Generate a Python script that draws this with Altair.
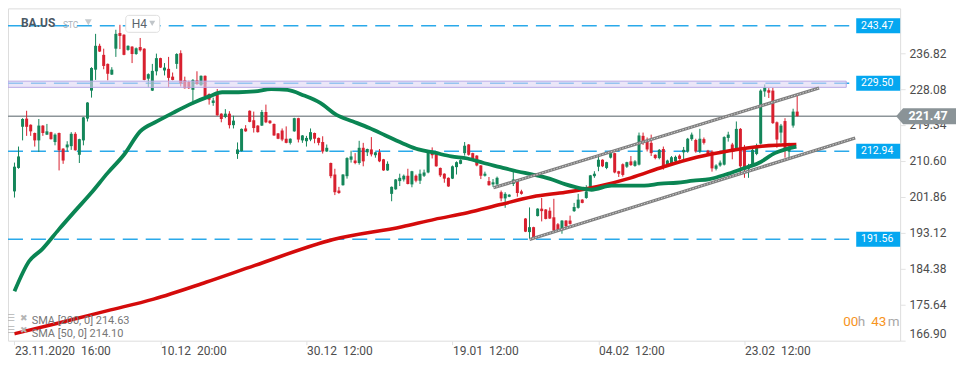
import altair as alt
import pandas as pd

# ---------------- data (BA.US, H4) ----------------
opens = [
    203.2, 208.9, 218.9, 220.9, 219.4, 217.4, 215.6, 219.2, 217.0, 217.6,
    215.2, 217.4, 213.6, 213.9, 214.2, 217.2, 212.1, 215.6, 220.9, 227.7,
    232.8, 238.6, 236.4, 234.2, 231.6, 237.9, 241.7, 241.3, 237.6, 238.4,
    236.6, 238.3, 237.9, 230.6, 227.7, 232.4, 235.6, 232.6, 233.0, 231.1,
    234.2, 236.8, 230.2, 229.8, 227.9, 230.2, 229.0, 231.3, 226.9, 224.7,
    227.1, 222.1, 221.3, 222.1, 219.3, 212.3, 213.0, 218.5, 222.8, 220.5,
    219.2, 219.2, 222.5, 220.4, 219.6, 217.3, 218.0, 216.0, 215.0, 217.8,
    221.0, 215.6, 215.4, 215.8, 217.4, 216.2, 215.2, 212.9, 210.1, 207.3,
    203.4, 204.7, 206.9, 210.9, 210.7, 210.1, 213.8, 212.7, 213.4, 212.0,
    212.7, 211.0, 208.3, 202.6, 203.7, 205.7, 206.1, 207.0, 204.9, 207.0,
    205.8, 207.0, 207.8, 212.9, 212.4, 208.9, 207.5, 206.5, 206.3, 209.1,
    209.9, 212.5, 214.6, 212.5, 211.9, 209.5, 207.0, 205.7, 204.9, 204.9,
    203.0, 201.5, 201.9, 205.0, 206.1, 203.2, 196.6, 193.3, 194.5, 197.2,
    199.0, 198.8, 198.5, 196.9, 195.2, 194.1, 196.1, 196.1, 198.4, 199.2,
    201.2, 201.6, 203.6, 206.9, 209.2, 210.9, 208.9, 211.4, 212.5, 208.1,
    209.8, 209.2, 210.5, 209.4, 209.7, 216.7, 215.4, 215.0, 212.1, 211.3,
    213.5, 209.7, 210.1, 210.5, 211.9, 212.7, 212.9, 215.9, 215.7, 212.9,
    215.9, 213.1, 212.9, 208.7, 209.5, 209.7, 216.2, 214.6, 213.5, 218.4,
    214.0, 208.7, 209.3, 212.3, 214.8, 227.5, 227.8, 227.7, 220.0, 217.5,
    220.3, 212.9, 219.2, 222.6,
]
highs = [
    210.2, 214.1, 221.0, 222.8, 219.5, 217.5, 220.8, 219.3, 219.6, 217.7,
    217.3, 217.5, 213.7, 215.4, 217.6, 217.6, 216.0, 221.3, 224.9, 233.4,
    241.5, 239.1, 237.9, 234.3, 233.4, 242.5, 243.7, 241.4, 238.7, 238.5,
    238.2, 240.5, 238.0, 231.9, 234.2, 236.7, 235.7, 234.4, 235.9, 232.1,
    236.8, 237.5, 231.1, 230.1, 230.5, 232.4, 231.4, 231.4, 227.0, 226.0,
    228.1, 222.2, 223.2, 222.7, 221.6, 215.1, 218.5, 219.3, 222.9, 222.6,
    219.3, 223.0, 224.3, 220.5, 219.7, 217.4, 218.5, 219.0, 216.1, 221.1,
    221.1, 216.9, 216.7, 218.5, 217.5, 216.3, 216.6, 214.6, 210.2, 208.7,
    204.3, 207.4, 211.5, 213.1, 212.5, 215.5, 215.0, 213.6, 216.4, 212.8,
    213.5, 211.1, 210.5, 204.4, 206.2, 207.5, 207.3, 208.7, 208.2, 207.3,
    208.5, 208.5, 212.8, 213.9, 212.5, 209.0, 207.6, 206.6, 209.5, 210.5,
    211.0, 215.2, 214.7, 212.6, 212.0, 209.6, 208.0, 206.7, 206.2, 206.8,
    203.4, 203.0, 202.5, 208.1, 206.2, 203.6, 196.7, 199.3, 194.6, 199.1,
    201.6, 198.9, 199.3, 201.4, 195.5, 196.2, 196.2, 197.3, 200.4, 202.6,
    201.3, 204.7, 207.2, 208.1, 211.7, 211.0, 210.4, 213.0, 212.6, 208.2,
    210.0, 210.4, 211.8, 210.8, 217.5, 217.5, 216.3, 217.0, 212.2, 213.5,
    214.1, 210.9, 211.8, 211.9, 212.2, 214.0, 216.2, 217.5, 216.0, 218.4,
    216.3, 213.3, 213.2, 209.8, 210.7, 216.6, 217.7, 215.0, 220.2, 218.6,
    214.5, 209.9, 213.6, 214.8, 228.0, 229.2, 228.3, 228.4, 220.2, 219.6,
    221.0, 215.0, 223.3, 226.7,
]
lows = [
    201.7, 208.7, 215.6, 216.7, 216.7, 214.1, 212.8, 216.7, 216.9, 215.8,
    214.4, 208.3, 209.9, 212.9, 213.3, 213.1, 210.1, 214.4, 220.2, 226.0,
    230.3, 237.1, 232.9, 230.2, 231.5, 235.9, 237.8, 236.3, 237.4, 234.4,
    236.4, 237.2, 230.2, 228.5, 227.6, 231.4, 233.2, 231.4, 228.5, 230.2,
    233.0, 228.7, 228.2, 228.1, 224.4, 229.1, 228.9, 225.6, 224.3, 224.0,
    221.6, 220.0, 221.0, 218.5, 218.5, 211.1, 212.9, 217.7, 220.0, 217.5,
    217.5, 219.1, 219.8, 219.6, 216.7, 215.9, 215.4, 214.9, 214.6, 217.7,
    215.1, 215.0, 214.1, 215.4, 214.9, 214.4, 212.4, 212.8, 206.4, 202.3,
    202.6, 204.6, 206.3, 210.2, 209.8, 209.7, 209.3, 211.8, 211.7, 211.4,
    210.3, 208.2, 208.2, 200.8, 203.6, 204.5, 205.6, 204.9, 204.2, 205.4,
    205.0, 206.7, 207.6, 211.2, 209.2, 206.7, 205.3, 204.3, 206.2, 207.3,
    209.8, 211.9, 211.9, 210.6, 209.3, 206.2, 206.8, 204.6, 204.3, 204.8,
    200.8, 199.2, 201.8, 204.5, 201.9, 202.4, 193.3, 191.7, 191.8, 197.1,
    195.9, 196.4, 196.5, 193.3, 193.6, 192.9, 194.1, 195.1, 198.2, 199.0,
    200.3, 201.4, 203.5, 206.5, 208.1, 209.1, 208.6, 211.2, 207.6, 206.7,
    206.8, 208.9, 209.4, 209.2, 209.5, 214.5, 212.9, 211.8, 211.0, 211.0,
    208.5, 209.4, 209.8, 210.2, 210.9, 211.0, 212.6, 215.5, 212.6, 212.5,
    214.6, 212.0, 208.0, 208.3, 209.2, 209.5, 215.3, 211.0, 213.4, 207.5,
    206.5, 206.5, 209.1, 212.0, 214.6, 226.2, 225.9, 219.6, 213.8, 215.0,
    211.4, 211.4, 218.7, 221.4,
]
closes = [
    209.2, 211.7, 220.8, 218.9, 217.8, 215.6, 219.2, 217.4, 217.8, 215.9,
    217.0, 213.2, 210.7, 214.6, 217.2, 213.2, 215.9, 221.2, 224.8, 233.2,
    238.6, 237.2, 233.7, 231.8, 232.8, 241.5, 241.0, 236.4, 238.6, 236.6,
    238.0, 237.5, 230.3, 231.7, 232.5, 235.6, 233.3, 233.3, 230.8, 230.3,
    236.6, 229.5, 228.3, 228.3, 230.3, 229.3, 231.3, 226.3, 225.5, 225.3,
    221.7, 220.8, 222.1, 219.3, 220.4, 213.4, 218.4, 217.8, 220.1, 218.6,
    217.6, 222.5, 220.0, 219.8, 216.8, 216.0, 215.8, 215.0, 216.0, 221.0,
    215.8, 216.8, 216.2, 217.6, 216.0, 215.0, 212.9, 213.8, 206.9, 203.0,
    202.8, 207.3, 211.3, 211.7, 210.1, 213.8, 210.5, 213.5, 212.2, 212.7,
    210.5, 208.3, 209.9, 204.3, 206.1, 206.5, 207.0, 205.0, 208.1, 205.8,
    207.5, 207.8, 212.7, 212.0, 209.3, 207.1, 206.3, 204.4, 209.3, 210.3,
    210.8, 214.3, 212.1, 210.9, 209.5, 207.0, 207.5, 204.7, 205.4, 206.5,
    201.5, 202.6, 202.4, 206.1, 202.8, 202.6, 193.4, 194.5, 191.9, 199.0,
    198.4, 196.5, 196.6, 193.7, 193.8, 196.1, 194.7, 195.3, 199.4, 201.2,
    200.4, 203.2, 207.1, 207.5, 210.9, 209.3, 210.3, 212.5, 207.8, 207.5,
    207.2, 210.3, 209.6, 210.5, 216.8, 215.0, 213.4, 212.5, 211.3, 213.3,
    208.9, 210.7, 211.5, 211.6, 211.1, 213.3, 216.0, 217.0, 212.9, 216.0,
    215.0, 212.3, 208.8, 209.5, 210.2, 216.4, 217.0, 213.2, 218.4, 209.3,
    208.9, 209.5, 213.3, 214.3, 227.7, 228.5, 227.2, 219.8, 215.8, 219.2,
    213.4, 214.0, 222.6, 221.5,
]

# moving averages, read at points along the curves (candle index, price)
sma50_idx = [0, 3.6, 6.8, 10.9, 14.9, 18.9, 23.0, 27.0, 31.0, 35.1,
             39.1, 43.1, 48.0, 51.2, 55.2, 59.3, 63.3, 67.3, 71.4, 75.4,
             79.4, 83.5, 87.5, 91.5, 96.4, 99.6, 103.6, 107.7, 111.7, 115.7,
             119.8, 123.8, 127.8, 131.9, 135.9, 139.9, 142.3, 147.2, 155.3, 159.3,
             163.3, 167.4, 171.4, 175.4, 179.5, 183.5, 187.5, 192.8]
sma50_val = [178.9, 186.2, 189.1, 193.9, 198.4, 202.8, 207.7, 212.1, 217.8, 220.2,
             222.3, 224.3, 226.3, 227.3, 227.3, 227.5, 228.1, 227.9, 226.5, 224.7,
             221.8, 220.2, 218.6, 216.8, 214.6, 213.4, 212.6, 211.7, 211.2, 210.1,
             209.1, 208.1, 207.3, 206.3, 204.9, 203.9, 203.6, 204.6, 204.6, 205.1,
             205.3, 205.8, 206.2, 207.3, 208.7, 210.1, 212.5, 214.1]
sma200_idx = [0, 10.9, 23.0, 34.3, 47.2, 59.3, 78.6, 95.6, 103.6, 111.7,
              119.8, 127.8, 135.9, 143.8, 152.0, 160.1, 168.2, 176.3, 184.3, 192.8]
sma200_val = [168.6, 171.2, 174.2, 177.0, 181.1, 185.2, 191.5, 194.6, 196.4, 198.0,
              200.0, 201.9, 203.0, 204.4, 206.5, 209.2, 211.5, 213.1, 214.2, 214.6]

# drawn trend channel (candle index, price)
chan_idx = [118.1, 198.4, 127.0, 207.3]
chan_val = [204.06, 228.33, 191.51, 216.2]
chan_id = ["upper", "upper", "lower", "lower"]

levels = [243.47, 229.50, 212.94, 191.56]
level_labels = ["243.47", "229.50", "212.94", "191.56"]
zone_lo, zone_hi = 228.5, 230.0
last_price = 221.47
last_label = "221.47"

y_ticks = [236.82, 228.08, 219.34, 210.60, 201.86, 193.12, 184.38, 175.64, 166.90]
x_tick_idx = [0, 36, 72, 108, 144, 180]
x_tick_lbl = ["23.11.2020\u00a0 16:00", "10.12\u00a0 20:00", "30.12\u00a0 12:00",
              "19.01\u00a0 12:00", "04.02\u00a0 12:00", "23.02\u00a0 12:00"]

legend_lines = ["SMA [200, 0] 214.63", "SMA [50, 0] 214.10"]

# ---------------- chart ----------------
W, H = 894, 333
XD = [-0.365, 217.155]
YD = [166.90, 247.70]
FONT = "Roboto"
GREEN, RED = "#14865a", "#d8202f"
BLUE = "#2aa9ea"

xs = alt.Scale(domain=XD, nice=False, zero=False)
ys = alt.Scale(domain=YD, nice=False, zero=False)

lbl_js = "[" + ",".join("'" + s + "'" for s in x_tick_lbl) + "]"
idx_js = "[" + ",".join(str(v) for v in x_tick_idx) + "]"
xaxis = alt.Axis(values=x_tick_idx, labelExpr=f"{lbl_js}[indexof({idx_js}, datum.value)]",
                 title=None, grid=False, domain=False, tickColor="#e2e2e2", tickSize=4,
                 labelAlign="left", labelFlush=False, labelPadding=1, labelFontSize=12,
                 labelColor="#4d4d4d", labelFont=FONT, labelOverlap=False)
yaxis = alt.Axis(orient="right", values=y_ticks, format=".2f", title=None, grid=False,
                 domain=False, tickColor="#e2e2e2", tickSize=5, labelPadding=4,
                 labelFontSize=12, labelColor="#4d4d4d", labelFont=FONT,
                 labelFlush=True, labelOverlap=False)


def X(f):
    return alt.X(f, type="quantitative", scale=xs, axis=xaxis)


def Y(f):
    return alt.Y(f, type="quantitative", scale=ys, axis=yaxis)


candles = pd.DataFrame({"i": list(range(len(opens))), "o": opens, "h": highs,
                        "l": lows, "c": closes})
candles["dir"] = ["up" if c >= o else "down" for o, c in zip(opens, closes)]
cscale = alt.Scale(domain=["up", "down"], range=[GREEN, RED])

lv = pd.DataFrame({"v": levels, "t": level_labels})
zone = pd.DataFrame({"lo": [zone_lo], "hi": [zone_hi]})
last = pd.DataFrame({"v": [last_price], "t": [last_label]})
s50 = pd.DataFrame({"i": sma50_idx, "v": sma50_val})
s200 = pd.DataFrame({"i": sma200_idx, "v": sma200_val})
chan = pd.DataFrame({"i": chan_idx, "v": chan_val, "g": chan_id})

dashed = alt.Chart(lv).mark_rule(color=BLUE, strokeWidth=1.5, strokeDash=[15, 8]).encode(
    y=Y("v"), x=alt.value(0), x2=alt.value(W - 44))
lastline = alt.Chart(last).mark_rule(color="#8d9599", strokeWidth=1.3).encode(y=Y("v"))

wicks = alt.Chart(candles).mark_rule(strokeWidth=1).encode(
    x=X("i"), y=Y("l"), y2="h", color=alt.Color("dir:N", scale=cscale, legend=None))
bodies = alt.Chart(candles).mark_bar(size=3).encode(
    x=X("i"), y=Y("o"), y2="c", color=alt.Color("dir:N", scale=cscale, legend=None))

sma200 = alt.Chart(s200).mark_line(color="#d40b0b", strokeWidth=3.5, interpolate="monotone").encode(
    x=X("i"), y=Y("v"))
sma50 = alt.Chart(s50).mark_line(color="#0a8553", strokeWidth=3.8, interpolate="monotone").encode(
    x=X("i"), y=Y("v"))

zone_rect = alt.Chart(zone).mark_rect(fill="#ddd5f3", fillOpacity=0.6, stroke="#b9aae6",
                                      strokeWidth=1).encode(
    y=Y("lo"), y2="hi", x=alt.value(0), x2=alt.value(W - 54))

chan_base = alt.Chart(chan).mark_line(color="#7f7f7f", strokeWidth=3.2).encode(
    x=X("i"), y=Y("v"), detail="g:N")
chan_top = alt.Chart(chan).mark_line(color="#cfcfcf", strokeWidth=1, strokeDash=[1.5, 1.5]).encode(
    x=X("i"), y=Y("v"), detail="g:N")

box_path = "M-1,-0.341L1,-0.341L1,0.341L-1,0.341Z"
tag_boxes = alt.Chart(lv).mark_point(shape=box_path, size=1936, filled=True, opacity=1,
                                     color="#05a7f0", strokeWidth=0).encode(
    y=Y("v"), x=alt.value(W - 22))
tag_text = alt.Chart(lv).mark_text(color="white", fontSize=10.5, font=FONT, align="center",
                                   baseline="middle").encode(
    y=Y("v"), x=alt.value(W - 23), text="t:N")

arrow_path = "M-1,0L-0.767,-0.267L1,-0.267L1,0.267L-0.767,0.267Z"
last_box = alt.Chart(last).mark_point(shape=arrow_path, size=3600, filled=True, opacity=1,
                                      color="#8a9397", strokeWidth=0).encode(
    y=Y("v"), x=alt.value(W + 26))
last_text = alt.Chart(last).mark_text(color="white", fontSize=12.5, fontWeight="bold",
                                      font=FONT, align="center", baseline="middle").encode(
    y=Y("v"), x=alt.value(W + 28), text="t:N")


def label(txt, x, y, size, color, weight="normal", align="left"):
    return alt.Chart(pd.DataFrame({"t": [txt]})).mark_text(
        fontSize=size, color=color, fontWeight=weight, font=FONT, align=align,
        baseline="middle").encode(x=alt.value(x), y=alt.value(y), text="t:N")


def tri(x, y, size, color):
    return alt.Chart(pd.DataFrame({"t": [0]})).mark_point(
        shape="triangle-down", size=size, filled=True, opacity=1, color=color,
        strokeWidth=0).encode(x=alt.value(x), y=alt.value(y))


h4_box = alt.Chart(pd.DataFrame({"t": [0]})).mark_rect(
    fill="white", stroke="#dedede", strokeWidth=1, cornerRadius=3).encode(
    x=alt.value(118), x2=alt.value(152), y=alt.value(7), y2=alt.value(24))

ui = [
    label("BA.US", 13, 15, 12, "#4a5864", weight="bold"),
    label("STC", 55, 16.5, 8.5, "#a9b1b9"),
    tri(80.5, 14, 49, "#c5cacd"),
    h4_box,
    label("H4", 124, 15.5, 12, "#5a646c"),
    tri(144.5, 15, 36, "#c0c5c9"),
    label("\u2630", 3, 310, 9, "#b5b5b5", align="center"),
    label("\u2716", 16.5, 310, 9, "#b5b5b5", align="center"),
    label(legend_lines[0], 23.7, 313, 11, "#777777"),
    label("\u2630", 3, 322.5, 9, "#b5b5b5", align="center"),
    label("\u2716", 16.5, 322.5, 9, "#b5b5b5", align="center"),
    label(legend_lines[1], 23.7, 326.5, 11, "#777777"),
    label("00", 837, 314, 13.5, "#f7941d"),
    label("h", 851.5, 314, 13.5, "#a8a8a8"),
    label("43", 865, 314, 13.5, "#f7941d"),
    label("m", 881.5, 314, 13.5, "#a8a8a8"),
]

chart = alt.layer(
    dashed, lastline, wicks, bodies, sma200, sma50, zone_rect, chan_base, chan_top,
    tag_boxes, tag_text, last_box, last_text, *ui
).properties(
    width=W, height=H,
    autosize=alt.AutoSizeParams(type="none"),
    padding={"left": 0, "top": 0, "right": 62, "bottom": 22},
    background="white",
).configure_view(stroke=None).configure(font=FONT)

chart.save("out.html", embed_options={"renderer": "svg", "actions": False})
